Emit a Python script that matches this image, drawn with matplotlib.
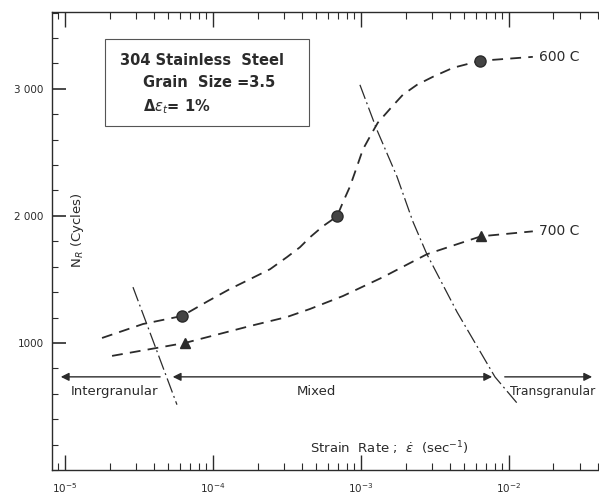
import matplotlib
matplotlib.use("Agg")
import matplotlib.pyplot as plt
from matplotlib.patches import Rectangle
from matplotlib.ticker import LogLocator, MultipleLocator, NullFormatter
import numpy as np

# Data
rate_600 = [1.78e-5, 3.37e-5, 6.18e-5, 9.25e-5, 1.30e-4, 1.78e-4, 2.43e-4, 3.16e-4,
            3.87e-4, 4.52e-4, 5.53e-4, 6.89e-4, 7.55e-4, 8.43e-4, 9.40e-4, 1.03e-3,
            1.19e-3, 1.30e-3, 1.62e-3, 1.92e-3, 2.39e-3, 3.06e-3, 4.19e-3, 6.37e-3,
            1.45e-2]
cycles_600 = [1039, 1149, 1212, 1329, 1424, 1502, 1580, 1675,
              1753, 1831, 1918, 1996, 2106, 2231, 2388, 2522,
              2655, 2733, 2859, 2953, 3031, 3094, 3165, 3220,
              3251]

rate_700 = [2.08e-5, 3.21e-5, 6.47e-5, 1.78e-4, 3.16e-4, 4.52e-4, 7.55e-4,
            1.41e-3, 2.79e-3, 6.47e-3, 1.45e-2]
cycles_700 = [898, 937, 1000, 1133, 1204, 1267, 1369,
              1518, 1698, 1839, 1878]

# measured points
pts_600_rate = [6.18e-5, 6.89e-4, 6.37e-3]
pts_600_cycles = [1212, 1996, 3220]
pts_700_rate = [6.47e-5, 6.47e-3]
pts_700_cycles = [1000, 1839]

# fracture-mode boundaries (dash-dot)
bound1_rate = [2.88e-5, 5.71e-5]
bound1_cycles = [1439, 514]
bound2_rate = [9.84e-4, 1.28e-3, 1.75e-3, 2.24e-3, 2.79e-3, 4.46e-3, 8.04e-3, 1.13e-2]
bound2_cycles = [3031, 2678, 2310, 1957, 1698, 1243, 733, 529]

ink = "#2b2b2b"

fig = plt.figure(figsize=(5.99, 4.96), dpi=100)
ax = fig.add_axes([0.0868, 0.0524, 0.9132, 0.9234])
ax.set_xscale("log")
ax.set_xlim(8.17e-6, 4.06e-2)
ax.set_ylim(0, 3604)

ax.plot(rate_600, cycles_600, color=ink, lw=1.3, dashes=(6, 4))
ax.plot(rate_700, cycles_700, color=ink, lw=1.3, dashes=(6, 4))
ax.plot(pts_600_rate, pts_600_cycles, "o", color="#444444", mec=ink, ms=8)
ax.plot(pts_700_rate, pts_700_cycles, "^", color=ink, ms=7.5)
ax.plot(bound1_rate, bound1_cycles, color=ink, lw=0.9, dashes=(12, 3, 1.5, 3))
ax.plot(bound2_rate, bound2_cycles, color=ink, lw=0.9, dashes=(12, 3, 1.5, 3))

ax.text(1.6e-2, 3251, "600 C", color=ink, fontsize=10, va="center", ha="left")
ax.text(1.6e-2, 1878, "700 C", color=ink, fontsize=10, va="center", ha="left")

# regime arrows
ay = 733
arrow = dict(arrowstyle="-|>", color=ink, lw=1.0, mutation_scale=12)
ax.annotate("", xy=(8.97e-6, ay), xytext=(4.59e-5, ay), arrowprops=arrow)
ax.annotate("", xy=(5.12e-5, ay), xytext=(8.04e-3, ay),
            arrowprops=dict(arrowstyle="<|-|>", color=ink, lw=1.0, mutation_scale=12))
ax.annotate("", xy=(3.81e-2, ay), xytext=(8.97e-3, ay), arrowprops=arrow)
ax.text(1.1e-5, 620, "Intergranular", color=ink, fontsize=9.5, va="center", ha="left")
ax.text(4.97e-4, 620, "Mixed", color=ink, fontsize=9.5, va="center", ha="center")
ax.text(1.02e-2, 620, "Transgranular", color=ink, fontsize=8.9, va="center", ha="left")

ax.text(4.52e-4, 169, "Strain  Rate ;  $\\dot{\\varepsilon}$  (sec$^{-1}$)", color=ink,
        fontsize=9.5, va="center", ha="left")
ax.text(0.046, 0.524, "N$_R$ (Cycles)", transform=ax.transAxes, rotation=90,
        color=ink, fontsize=9.5, va="center", ha="center")

# info box
ax.add_patch(Rectangle((0.097, 0.751), 0.373, 0.19, transform=ax.transAxes,
                       fill=False, ec="#555555", lw=0.8))
ax.text(0.124, 0.895, "304 Stainless  Steel", transform=ax.transAxes,
        color=ink, fontsize=10.5, fontweight="bold", va="center", ha="left")
ax.text(0.166, 0.847, "Grain  Size =3.5", transform=ax.transAxes,
        color=ink, fontsize=10.5, fontweight="bold", va="center", ha="left")
ax.text(0.166, 0.793, "$\\mathbf{\\Delta}\\varepsilon_t$= 1%", transform=ax.transAxes,
        color=ink, fontsize=10.5, fontweight="bold", va="center", ha="left")

# axes styling
for s in ["left", "bottom", "top"]:
    ax.spines[s].set_color(ink)
    ax.spines[s].set_linewidth(1.0)
ax.spines["right"].set_visible(False)

ax.xaxis.set_major_locator(LogLocator(base=10, numticks=10))
ax.xaxis.set_minor_locator(LogLocator(base=10, subs=np.arange(2, 10), numticks=20))
ax.xaxis.set_minor_formatter(NullFormatter())
ax.tick_params(axis="x", which="major", direction="in", length=11, width=1,
               top=True, labelsize=7.5, colors=ink, pad=8)
ax.tick_params(axis="x", which="minor", direction="in", length=5, width=0.8,
               top=True, colors=ink)

ax.set_yticks([1000, 2000, 3000])
ax.set_yticklabels(["1000", "2 000", "3 000"])
ax.yaxis.set_minor_locator(MultipleLocator(200))
ax.tick_params(axis="y", which="major", direction="in", length=10, width=1.2,
               labelsize=7.5, colors=ink, pad=6)
ax.tick_params(axis="y", which="minor", direction="in", length=4, width=0.8, colors=ink)

fig.savefig("out.png", dpi=100)
